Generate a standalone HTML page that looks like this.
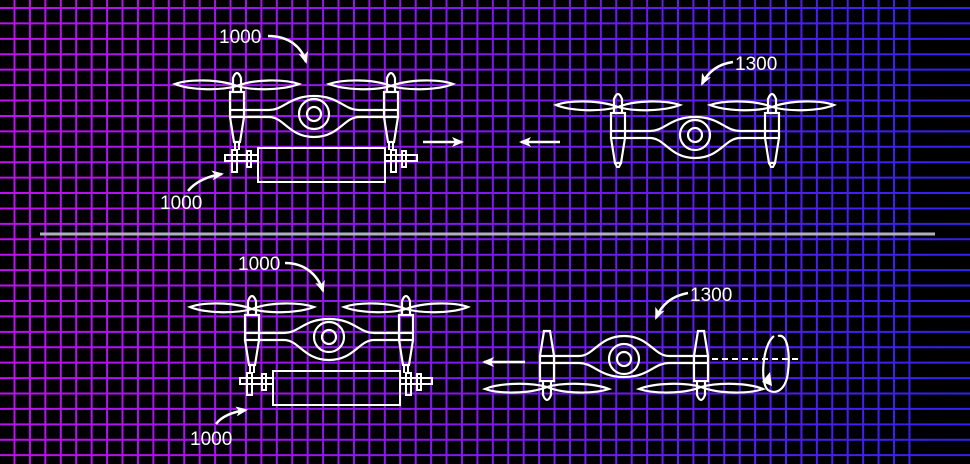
<!DOCTYPE html>
<html><head><meta charset="utf-8"><style>
html,body{margin:0;padding:0;background:#000;}
svg{display:block;}
text{font-family:"Liberation Sans",sans-serif;font-size:19px;fill:#fff;}
</style></head><body>
<svg width="970" height="464" viewBox="0 0 970 464" xmlns="http://www.w3.org/2000/svg">
<defs>
<linearGradient id="gg" gradientUnits="userSpaceOnUse" x1="0" y1="0" x2="970" y2="0">
<stop offset="0" stop-color="#c010f0"/><stop offset="0.5" stop-color="#8018f0"/><stop offset="1" stop-color="#3022f0"/>
</linearGradient>
<g id="drone" fill="none" stroke="#fff" stroke-width="2.2">
<path d="M-77 -28 C-95 -35 -125 -35 -139 -30 C-125 -24 -95 -23 -77 -28 C-60 -35 -30 -35 -15 -30 C-30 -24 -60 -23 -77 -28"/>
<path d="M77 -28 C60 -35 30 -35 15 -30 C30 -24 60 -23 77 -28 C95 -35 125 -35 139 -30 C125 -24 95 -23 77 -28"/>
<path d="M-81 -22 L-81 -36 Q-77 -46 -73 -36 L-73 -22"/>
<path d="M73 -22 L73 -36 Q77 -46 81 -36 L81 -22"/>
<rect x="-84" y="-22" width="14" height="25"/><rect x="70" y="-22" width="14" height="25"/>
<path d="M-70 -4 L-45 -4 C-30 -4 -25 -18 0 -18 C25 -18 30 -4 45 -4 L70 -4"/>
<path d="M-70 3 L-45 3 C-30 3 -25 23 0 23 C25 23 30 3 45 3 L70 3"/>
<line x1="-84" y1="-4" x2="-70" y2="-4"/><line x1="70" y1="-4" x2="84" y2="-4"/>
<path d="M-84 3 L-80 28 L-74 28 L-70 3"/><path d="M70 3 L74 28 L80 28 L84 3"/>
<circle cx="0" cy="0" r="15"/><circle cx="0" cy="0" r="7"/>
</g>
<g id="stems" fill="none" stroke="#fff" stroke-width="2">
<path d="M-79 28 L-79 36 M-75 28 L-75 36 M75 28 L75 36 M79 28 L79 36"/>
</g>
<g id="cart" fill="none" stroke="#fff" stroke-width="2">
<rect x="-56" y="34" width="127" height="34"/>
<rect x="-89" y="41" width="33" height="6"/><rect x="71" y="41" width="32" height="6"/>
<rect x="-82" y="36" width="5" height="22"/><rect x="-67" y="37" width="4" height="16"/>
<rect x="77" y="36" width="5" height="22"/><rect x="88" y="37" width="4" height="16"/>
</g>
<marker id="ah2" markerWidth="12" markerHeight="10" refX="10" refY="5" orient="auto" markerUnits="userSpaceOnUse"><path d="M0 0 L12 5 L0 10 L3 5 Z" fill="#fff"/></marker>
</defs>
<rect width="970" height="464" fill="#000"/>
<path stroke="url(#gg)" stroke-width="2" fill="none" d="M14.5 0 v464 m15.43 -464 v464 m15.43 -464 v464 m15.43 -464 v464 m15.43 -464 v464 m15.43 -464 v464 m15.43 -464 v464 m15.43 -464 v464 m15.43 -464 v464 m15.43 -464 v464 m15.43 -464 v464 m15.43 -464 v464 m15.43 -464 v464 m15.43 -464 v464 m15.43 -464 v464 m15.43 -464 v464 m15.43 -464 v464 m15.43 -464 v464 m15.43 -464 v464 m15.43 -464 v464 m15.43 -464 v464 m15.43 -464 v464 m15.43 -464 v464 m15.43 -464 v464 m15.43 -464 v464 m15.43 -464 v464 m15.43 -464 v464 m15.43 -464 v464 m15.43 -464 v464 m15.43 -464 v464 m15.43 -464 v464 m15.43 -464 v464 m15.43 -464 v464 m15.43 -464 v464 m15.43 -464 v464 m15.43 -464 v464 m15.43 -464 v464 m15.43 -464 v464 m15.43 -464 v464 m15.43 -464 v464 m15.43 -464 v464 m15.43 -464 v464 m15.43 -464 v464 m15.43 -464 v464 m15.43 -464 v464 m15.43 -464 v464 m15.43 -464 v464 m15.43 -464 v464 m15.43 -464 v464 m15.43 -464 v464 m15.43 -464 v464 m15.43 -464 v464 m15.43 -464 v464 m15.43 -464 v464 m15.43 -464 v464 m15.43 -464 v464 m15.43 -464 v464 m15.43 -464 v464 m15.43 -464 v464
M0 8 h970 m-970 15.42 h970 m-970 15.42 h970 m-970 15.42 h970 m-970 15.42 h970 m-970 15.42 h970 m-970 15.42 h970 m-970 15.42 h970 m-970 15.42 h970 m-970 15.42 h970 m-970 15.42 h970 m-970 15.42 h970 m-970 15.42 h970 m-970 15.42 h970 m-970 15.42 h970 m-970 15.42 h970 m-970 15.42 h970 m-970 15.42 h970 m-970 15.42 h970 m-970 15.42 h970 m-970 15.42 h970 m-970 15.42 h970 m-970 15.42 h970 m-970 15.42 h970 m-970 15.42 h970 m-970 15.42 h970 m-970 15.42 h970 m-970 15.42 h970 m-970 15.42 h970 m-970 15.42 h970"/>
<line x1="40" y1="234" x2="935" y2="234" stroke="#b0b0b8" stroke-width="3"/>

<g transform="translate(314,114)"><use href="#drone"/><use href="#stems"/><use href="#cart"/></g>
<g transform="translate(695,135)"><use href="#drone"/><path d="M-80 28 L-78 32 L-76 32 L-74 28 M74 28 L76 32 L78 32 L80 28" fill="none" stroke="#fff" stroke-width="2"/></g>
<g transform="translate(329,337)"><use href="#drone"/><use href="#stems"/><use href="#cart"/></g>
<g transform="translate(624,359) scale(1,-1)"><use href="#drone"/></g>

<g fill="none" stroke="#fff" stroke-width="2.5">
<line x1="423" y1="142" x2="462" y2="142" marker-end="url(#ah2)"/>
<line x1="560" y1="142" x2="521" y2="142" marker-end="url(#ah2)"/>
<line x1="525" y1="362" x2="484" y2="362" marker-end="url(#ah2)"/>
<line x1="712" y1="359" x2="800" y2="359" stroke-dasharray="6,4" stroke-width="2"/>
<path d="M778 336 C788 333 790 355 788 372 C786 390 776 395 768 390 C760 384 762 345 774 336" stroke-width="2.2"/>
</g>
<path d="M762 382 L770 372 L772 386 Z" fill="#fff"/>

<g fill="none" stroke="#fff" stroke-width="2.5">
<path d="M268 36 C290 36 302 48 306 62" marker-end="url(#ah2)"/>
<path d="M188 191 C195 182 208 176 222 174" marker-end="url(#ah2)"/>
<path d="M733 62 C718 64 708 72 702 84" marker-end="url(#ah2)"/>
<path d="M285 263 C305 263 318 275 323 291" marker-end="url(#ah2)"/>
<path d="M216 424 C222 416 232 412 246 410" marker-end="url(#ah2)"/>
<path d="M688 293 C672 296 662 304 656 318" marker-end="url(#ah2)"/>
</g>
<text x="219" y="43">1000</text>
<text x="160" y="209">1000</text>
<text x="735" y="70">1300</text>
<text x="238" y="270">1000</text>
<text x="190" y="445">1000</text>
<text x="690" y="301">1300</text>
</svg>
</body></html>
